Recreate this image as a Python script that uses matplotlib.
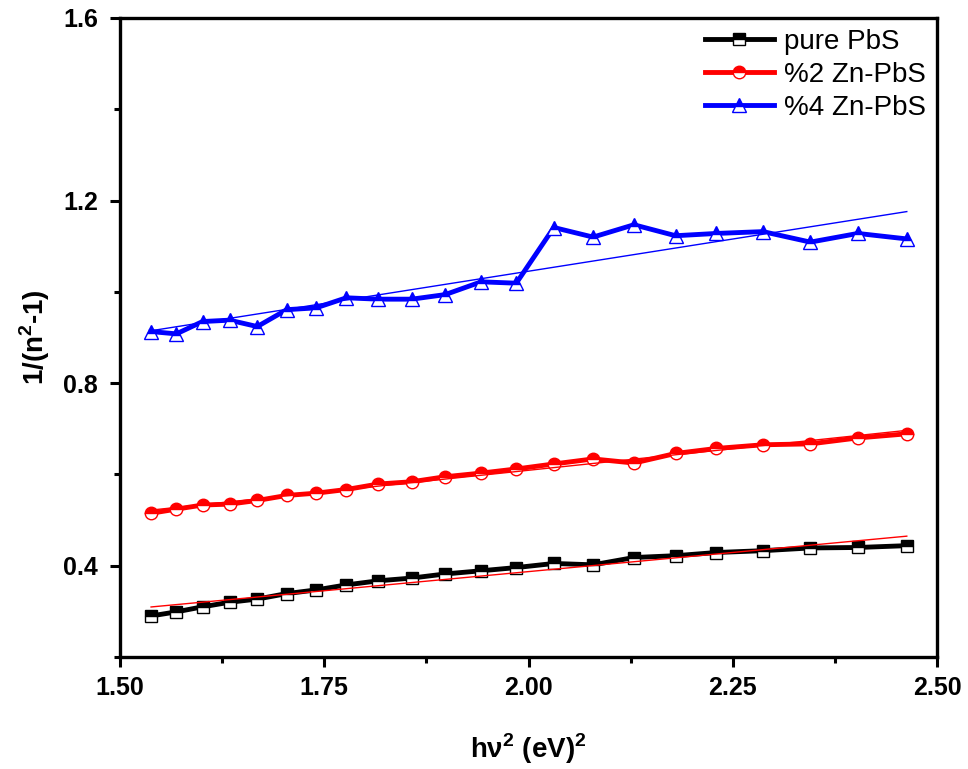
import numpy as np
import matplotlib
matplotlib.use("Agg")
import matplotlib.pyplot as plt
from matplotlib.ticker import MultipleLocator, FormatStrFormatter

plt.rcParams['font.family'] = ['Liberation Sans', 'DejaVu Sans']
plt.rcParams['mathtext.fontset'] = 'custom'
plt.rcParams['mathtext.rm'] = 'Liberation Sans'
plt.rcParams['mathtext.bf'] = 'Liberation Sans:bold'

# photon energy squared (eV^2)
hv2 = [1.538, 1.569, 1.601, 1.634, 1.668, 1.704, 1.740, 1.777, 1.816, 1.857,
       1.898, 1.942, 1.985, 2.031, 2.079, 2.129, 2.180, 2.230, 2.287, 2.345,
       2.403, 2.463]

# 1/(n^2-1) for each sample
pure_pbs = [0.290, 0.299, 0.310, 0.320, 0.327, 0.339, 0.347, 0.358, 0.367, 0.373,
            0.382, 0.389, 0.396, 0.405, 0.402, 0.418, 0.422, 0.429, 0.433, 0.439,
            0.440, 0.444]
zn2_pbs = [0.515, 0.524, 0.533, 0.535, 0.543, 0.554, 0.559, 0.567, 0.579, 0.584,
           0.595, 0.603, 0.612, 0.623, 0.634, 0.625, 0.646, 0.657, 0.665, 0.667,
           0.680, 0.689]
zn4_pbs = [0.913, 0.908, 0.935, 0.938, 0.924, 0.961, 0.965, 0.987, 0.984, 0.984,
           0.994, 1.022, 1.019, 1.141, 1.120, 1.147, 1.123, 1.128, 1.132, 1.109,
           1.128, 1.116]

labels = ['pure PbS', '%2 Zn-PbS', '%4 Zn-PbS']
colors = ['black', 'red', 'blue']
fit_colors = ['red', 'red', 'blue']
markers = ['s', 'o', '^']
sizes = [8, 9, 9.5]

fig = plt.figure(figsize=(9.68, 7.69), dpi=100)
ax = fig.add_axes([0.124, 0.1456, 0.844, 0.831])

x = np.array(hv2)
for y, lab, c, fc, m, ms in zip([pure_pbs, zn2_pbs, zn4_pbs], labels, colors,
                                fit_colors, markers, sizes):
    y = np.array(y)
    ax.plot(x, y, color=c, lw=3.5, marker=m, ms=ms, fillstyle='top',
            markerfacecolor=c, markerfacecoloralt='white', markeredgecolor=c,
            markeredgewidth=1.0, label=lab, zorder=3)
    # linear fit
    k, b = np.polyfit(x, y, 1)
    ax.plot(x, k * x + b, color=fc, lw=1.0, zorder=4)

ax.set_xlim(1.5, 2.5)
ax.set_ylim(0.2, 1.6)
ax.xaxis.set_major_locator(MultipleLocator(0.25))
ax.xaxis.set_minor_locator(MultipleLocator(0.125))
ax.yaxis.set_minor_locator(MultipleLocator(0.2))
ax.xaxis.set_major_formatter(FormatStrFormatter('%.2f'))
ax.yaxis.set_major_formatter(FormatStrFormatter('%.1f'))
ax.set_yticks([0.4, 0.8, 1.2, 1.6])

for s in ax.spines.values():
    s.set_linewidth(2.4)
ax.tick_params(which='major', direction='out', length=7, width=2.2,
               labelsize=18)
ax.tick_params(axis='y', which='major', pad=9)
ax.tick_params(axis='x', which='major', pad=7)
ax.tick_params(which='minor', direction='out', length=4, width=2.2)
for t in ax.get_xticklabels() + ax.get_yticklabels():
    t.set_fontweight('bold')

ax.set_xlabel('hν$^{\\mathbf{2}}$ (eV)$^{\\mathbf{2}}$', fontsize=20,
              fontweight='bold', labelpad=22)
ax.set_ylabel('1/(n$^{\\mathbf{2}}$-1)', fontsize=20, fontweight='bold',
              labelpad=8)

ax.legend(loc='upper right', frameon=False, fontsize=20, handlelength=2.5,
          handletextpad=0.35, labelspacing=0.25, borderaxespad=0.0,
          bbox_to_anchor=(1.0, 1.0))

fig.savefig('out.png', dpi=100)
